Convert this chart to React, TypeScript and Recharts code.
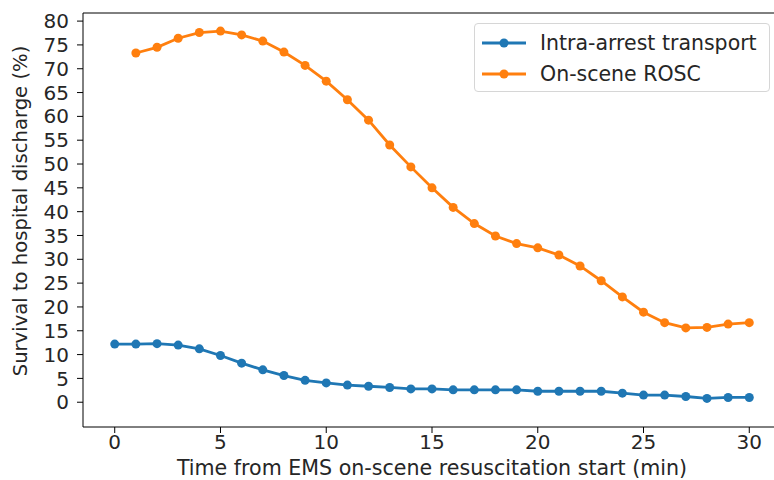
import { LineChart, Line, XAxis, YAxis, ReferenceLine } from 'recharts';

const minutes = [0, 1, 2, 3, 4, 5, 6, 7, 8, 9, 10, 11, 12, 13, 14, 15, 16, 17, 18, 19, 20, 21, 22, 23, 24, 25, 26, 27, 28, 29, 30];

const intraArrest = [
  12.2, 12.2, 12.3, 12.0, 11.2, 9.8, 8.2, 6.8, 5.6, 4.6, 4.05, 3.6, 3.35, 3.1, 2.8, 2.8,
  2.6, 2.6, 2.6, 2.6, 2.3, 2.3, 2.3, 2.3, 1.9, 1.5, 1.5, 1.2, 0.8, 1.0, 1.0,
];

const onScene = [
  null, 73.3, 74.5, 76.4, 77.6, 77.9, 77.1, 75.8, 73.5, 70.7, 67.4, 63.5, 59.2, 54.0, 49.4, 45.0,
  40.9, 37.5, 34.9, 33.3, 32.4, 30.9, 28.6, 25.5, 22.1, 18.9, 16.7, 15.6, 15.7, 16.4, 16.7,
];

const xTicks = [0, 5, 10, 15, 20, 25, 30];
const yTicks = [0, 5, 10, 15, 20, 25, 30, 35, 40, 45, 50, 55, 60, 65, 70, 75, 80];

const seriesNames = ['Intra-arrest transport', 'On-scene ROSC'];
const colors = ['#1f77b4', '#ff7f0e'];

const data = minutes.map((m, i) => ({ t: m, intra: intraArrest[i], onscene: onScene[i] }));

const font = 'DejaVu Sans';
const textColor = '#262626';

function LegendBox() {
  return (
    <div
      style={{
        position: 'absolute',
        left: 474,
        top: 23,
        width: 296,
        height: 69,
        border: '1px solid #d6d6d6',
        borderRadius: 4,
        background: 'rgba(255,255,255,0.8)',
        fontFamily: font,
        fontSize: 20.5,
        color: textColor,
        boxSizing: 'border-box',
      }}
    >
      {seriesNames.map((name, i) => (
        <div key={name} style={{ position: 'absolute', left: 7, top: 6 + i * 31, height: 26, display: 'flex', alignItems: 'center' }}>
          <svg width={44} height={12} style={{ marginRight: 14 }}>
            <line x1={0} y1={6} x2={44} y2={6} stroke={colors[i]} strokeWidth={2.8} />
            <circle cx={22} cy={6} r={4.5} fill={colors[i]} />
          </svg>
          <span>{name}</span>
        </div>
      ))}
    </div>
  );
}

export default function App() {
  return (
    <div style={{ position: 'absolute', left: 0, top: 0, width: 774, height: 480, overflow: 'hidden', background: '#fff' }}>
      <LineChart width={774} height={480} data={data} margin={{ top: 13, right: -7, left: 0, bottom: 0 }}>
        <XAxis
          dataKey="t"
          type="number"
          domain={[-1.5, 31.5]}
          ticks={xTicks}
          allowDataOverflow
          height={53}
          tickSize={6}
          tickMargin={2}
          stroke="#000"
          tick={{ fill: textColor, fontSize: 20, fontFamily: font }}
          label={{ value: 'Time from EMS on-scene resuscitation start (min)', position: 'insideBottom', offset: 5, fill: textColor, fontSize: 20.6, fontFamily: font }}
        />
        <YAxis
          type="number"
          domain={[-5.2, 81.7]}
          ticks={yTicks}
          allowDataOverflow
          width={83}
          tickSize={6}
          tickMargin={8}
          interval={0}
          stroke="#000"
          tick={{ fill: textColor, fontSize: 20, fontFamily: font }}
          label={{ value: 'Survival to hospital discharge (%)', angle: -90, position: 'insideLeft', offset: 20, dy: -9, fill: textColor, fontSize: 19.6, fontFamily: font, style: { textAnchor: 'middle' } }}
        />
        <ReferenceLine y={81.7} stroke="#000" strokeWidth={1} ifOverflow="visible" />
        <Line
          dataKey="intra"
          name={seriesNames[0]}
          stroke={colors[0]}
          strokeWidth={2.8}
          dot={{ r: 4.5, fill: colors[0], stroke: colors[0], strokeWidth: 0 }}
          isAnimationActive={false}
        />
        <Line
          dataKey="onscene"
          name={seriesNames[1]}
          stroke={colors[1]}
          strokeWidth={2.8}
          dot={{ r: 4.5, fill: colors[1], stroke: colors[1], strokeWidth: 0 }}
          isAnimationActive={false}
        />
      </LineChart>
      <LegendBox />
    </div>
  );
}
